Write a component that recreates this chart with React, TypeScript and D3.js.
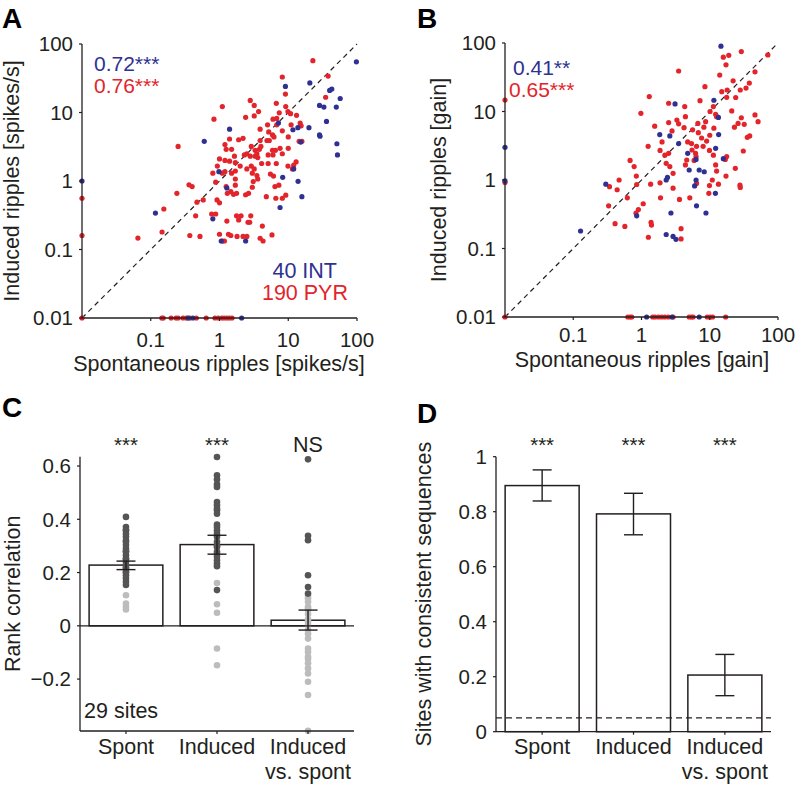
import * as d3 from "d3";

const FONT = "'Liberation Sans', Arial, Helvetica, sans-serif";
const BLUE = "#2e3192";
const RED = "#e3242b";
const INK = "#231f20";

// A: firing rate [spontaneous, induced] in spikes/s, 0 = silent (drawn on the axis)
const rateInt = [
  [98, 55], [9.1, 24], [20.6, 27], [40, 21], [43, 22], [57, 16], [28.5, 12.7], [33, 12], [50, 12],
  [36, 7.4], [1.4, 5.7], [0.6, 3.8], [11.7, 5.6], [13.8, 6.0], [20, 6.0], [28.5, 4.7], [29, 4.5],
  [15.2, 3.7], [51, 3.5], [52, 2.4], [7.2, 7.0], [12, 1.5], [0.98, 1.37], [8.3, 1.13], [13.9, 0.99],
  [15.8, 0.59], [7.6, 0.41], [0.117, 0.34], [0.8, 0.28], [1.06, 0.133], [2.4, 0.133], [1.28, 0.79],
  [0, 1], [0.35, 0], [0.41, 0], [2.1, 0],
];
const ratePyr = [
  [22.8, 57], [38, 34], [8.2, 33], [9.1, 18.6], [35, 16.7], [2.8, 15], [3.2, 12.7], [6.7, 13.6],
  [1.1, 12.2], [3.7, 10.3], [9.2, 12.2], [9.9, 10.3], [7.4, 9.9], [10.8, 9.6], [13.2, 9.1], [2.4, 8.5],
  [3.2, 8.9], [0.83, 8.0], [6.0, 8.0], [6.8, 8.2], [3.9, 5.7], [5.0, 6.6], [6.8, 6.6], [8.2, 5.4],
  [11, 6.6], [14.9, 7.0], [15.4, 6.4], [5.2, 5.2], [5.9, 4.7], [6.2, 4.4], [10, 4.4], [14.4, 3.8],
  [15.8, 3.8], [1.4, 4.1], [1.9, 4.0], [2.2, 4.2], [0.25, 3.2], [3.9, 3.9], [4.9, 3.9], [5.3, 3.9],
  [1.0, 2.1], [1.2, 3.4], [1.5, 2.9], [1.25, 2.9], [2.9, 3.2], [3.3, 2.8], [3.8, 2.9], [4.0, 3.2],
  [5.9, 2.8], [6.5, 2.8], [7.6, 3.0], [10, 3.0], [2.3, 2.4], [2.5, 2.5], [2.8, 2.3], [3.3, 2.3],
  [3.5, 2.5], [3.6, 2.2], [1.65, 2.3], [5.1, 2.4], [6.0, 2.4], [8.2, 2.5], [1.2, 2.0], [1.4, 1.95],
  [1.7, 1.85], [2.0, 1.65], [2.5, 1.5], [2.9, 1.65], [3.2, 1.5], [4.1, 1.8], [5.1, 1.8], [6.7, 1.8],
  [9.9, 1.65], [12, 1.7], [13, 1.9], [0.93, 1.65], [11.5, 1.5],
  [0.8, 1.3], [1.1, 1.3], [1.2, 1.37], [1.5, 1.3], [1.7, 1.4], [3.0, 1.3], [3.5, 1.2], [3.6, 1.07],
  [5.5, 1.26], [6.1, 1.18], [0.36, 0.88], [0.4, 0.83], [0.24, 0.66], [0.88, 0.96], [1.25, 0.83],
  [1.3, 0.66], [1.46, 0.7], [1.6, 0.64], [1.77, 0.66], [1.7, 0.87], [1.7, 1.07], [3.1, 0.98],
  [3.0, 0.81], [2.4, 0.63], [2.65, 0.66], [4.8, 0.59], [6.4, 0.83], [7.3, 0.87], [6.6, 0.56],
  [8.2, 0.56], [9.2, 0.62], [0.47, 0.49], [0.58, 0.53], [0.92, 0.53], [1.0, 0.48], [0.155, 0.39],
  [0.45, 0.31], [0.77, 0.33], [0.88, 0.33], [1.28, 0.26], [1.77, 0.31], [2.06, 0.31], [1.9, 0.27],
  [2.6, 0.25], [2.75, 0.25], [2.85, 0.31], [4.2, 0.22], [0.146, 0.18], [0.37, 0.16], [0.52, 0.155],
  [1.0, 0.167], [1.35, 0.167], [1.46, 0.16], [1.8, 0.155], [2.2, 0.155], [2.5, 0.155], [1.1, 0.133],
  [1.18, 0.133], [3.9, 0.146], [4.3, 0.133], [5.8, 0.163], [0.065, 0.147],
  [0, 0.56], [0, 0.16], [0, 0],
  [0.145, 0], [0.152, 0], [0.198, 0], [0.233, 0], [0.25, 0], [0.295, 0], [0.33, 0], [0.37, 0],
  [0.46, 0], [0.64, 0], [0.86, 0], [0.96, 0], [1.08, 0], [1.17, 0], [1.28, 0], [1.39, 0], [1.52, 0],
];

// B: ripple gain [spontaneous, induced]
const gainInt = [
  [14.6, 90], [3.1, 12.9], [11.5, 14.6], [13.4, 8.2], [1.85, 4.6], [2.6, 4.4], [3.5, 3.4], [12.2, 2.9],
  [13.5, 4.6], [4.75, 2.45], [6.3, 2.0], [15.8, 2.05], [5.0, 1.4], [7.0, 1.4], [8.3, 1.32], [2.4, 1.09],
  [2.3, 1.0], [6.3, 1.0], [12.1, 0.64], [6.0, 0.82], [0.3, 0.87], [0.85, 0.3], [2.7, 0.33], [6.4, 0.42],
  [8.8, 0.33], [0.128, 0.18], [2.3, 0.16], [2.9, 0.15], [3.2, 0.136],
  [0, 3.0], [0, 0.97], [1.19, 0], [2.8, 0], [7.0, 0],
];
const gainPyr = [
  [15.8, 62], [19, 66], [29, 75], [17.3, 48], [3.5, 39], [71, 67], [46, 38], [14, 34], [22, 28],
  [38, 26], [34, 22], [28, 20.6], [8.5, 23], [15, 19.5], [18, 20.6], [17.7, 16.1], [24, 16], [1.3, 16.5],
  [2.5, 13.2], [4.3, 11.8], [7.2, 14.4], [0.98, 9.4], [11.3, 11.8], [10.1, 10], [12.2, 9.1], [12.6, 8.4],
  [21, 10.2], [46, 8.9], [51, 7.1], [29, 8.1], [26, 6.7], [32, 6.5], [23, 5.9], [35.5, 4.2], [38.5, 4.4],
  [31, 2.65], [2.5, 6.9], [3.3, 7.5], [3.5, 6.6], [2.8, 5.2], [4.4, 8.4], [4.2, 5.8], [6.7, 6.7],
  [8.7, 7.1], [8.2, 5.9], [5.6, 5.4], [6.8, 4.9], [10, 4.5], [9.0, 3.7], [7.6, 4.1], [11.5, 5.7],
  [2.0, 3.6], [1.25, 3.1], [1.87, 2.7], [2.2, 2.3], [2.5, 2.45], [4.75, 3.6], [5.4, 3.4], [5.5, 2.74],
  [6.4, 3.1], [6.2, 2.45], [8.0, 3.1], [9.9, 2.7], [11.3, 2.3], [2.3, 1.75], [2.6, 1.57], [2.9, 1.25],
  [4.6, 1.96], [5.9, 1.93], [6.3, 2.2], [4.4, 1.66], [12.2, 1.66], [16.9, 2.0], [17.7, 2.2], [12.6, 1.35],
  [23.7, 1.48], [0.68, 1.93], [0.78, 1.57], [0.84, 1.14], [0.47, 1.0], [17.3, 1.14], [1.56, 6.1],
  [0.34, 0.8], [0.44, 0.72], [0.85, 0.86], [0.62, 0.55], [0.33, 0.42], [0.41, 0.23], [0.57, 0.21],
  [0.9, 0.37], [1.06, 0.45], [0.83, 0.33], [1.36, 0.87], [1.87, 0.91], [2.9, 0.76], [1.9, 0.55],
  [3.6, 0.52], [5.1, 0.55], [1.38, 0.24], [1.4, 0.22], [1.26, 0.146], [3.8, 0.195], [3.8, 0.138],
  [6.4, 0.89], [9.9, 0.83], [9.7, 0.64], [13.4, 0.87], [10.9, 1.0], [27.7, 0.84], [28, 0.78],
  [0, 14.7], [0, 0.92], [0, 0],
  [0.63, 0], [0.68, 0], [0.72, 0], [1.46, 0], [1.58, 0], [1.77, 0], [1.98, 0], [2.2, 0], [2.47, 0],
  [2.9, 0], [5.0, 0], [5.4, 0], [5.7, 0], [9.2, 0], [10.1, 0], [11, 0], [17.1, 0],
];

const logTicksY = [0.01, 0.1, 1, 10, 100];
const logTicksX = [0.1, 1, 10, 100];

// C: rank correlation per site
const barCats = ["Spont", "Induced", "Induced vs. spont"];
const barCatLines = [["Spont"], ["Induced"], ["Induced", "vs. spont"]];
const corrMean = [0.228, 0.305, 0.021];
const corrLo = [0.211, 0.269, -0.016];
const corrHi = [0.243, 0.34, 0.059];
const corrSpontSig = [0.409, 0.371, 0.36, 0.359, 0.346, 0.334, 0.32, 0.315, 0.303, 0.29, 0.28, 0.278,
  0.265, 0.253, 0.25, 0.24, 0.228, 0.22, 0.215, 0.203, 0.2, 0.19, 0.178, 0.165, 0.153];
const corrSpontNs = [0.115, 0.084, 0.071, 0.061];
const corrIndSig = [0.634, 0.565, 0.549, 0.531, 0.521, 0.465, 0.453, 0.44, 0.434, 0.421, 0.38, 0.371,
  0.359, 0.346, 0.334, 0.315, 0.3, 0.296, 0.278, 0.27, 0.259, 0.246, 0.234, 0.224, 0.134];
const corrIndNs = [0.161, 0.081, 0.049, -0.085, -0.148];
const corrCrossSig = [0.625, 0.338, 0.321, 0.19, 0.146, 0.121];
const corrCrossNs = [0.112, 0.103, 0.09, 0.071, 0.065, 0.059, 0.044, 0.024, 0.015, 0.003, -0.016,
  -0.03, -0.048, -0.085, -0.098, -0.116, -0.125, -0.141, -0.16, -0.179, -0.21, -0.26, -0.394];
const corrSig = [corrSpontSig, corrIndSig, corrCrossSig];
const corrNs = [corrSpontNs, corrIndNs, corrCrossNs];
const corrTicks = [-0.2, 0, 0.2, 0.4, 0.6];
const corrStars = ["***", "***", "NS"];

// D: fraction of sites with consistent sequences
const seqMean = [0.895, 0.792, 0.206];
const seqLo = [0.839, 0.716, 0.131];
const seqHi = [0.952, 0.867, 0.281];
const seqTicks = [0, 0.2, 0.4, 0.6, 0.8, 1];
const seqStars = ["***", "***", "***"];
const chanceLevel = 0.05;

const fmtTick = (v: number) => (v === 0 ? "0" : v === 1 ? "1" : d3.format(".1f")(v));

function LogScatter({ left, right, top, bottom, intPts, pyrPts, xLabel, yLabel, xLabelPos, yLabelX, xTickDy, rTexts, showCounts }: any) {
  const x = d3.scaleLog().domain([0.01, 100]).range([left, right]);
  const y = d3.scaleLog().domain([0.01, 100]).range([bottom, top]);
  const c = (v: number) => (v <= 0 ? 0.01 : v);
  const dot = (col: string) => (d: number[], i: number) => (
    <circle key={i} cx={x(c(d[0]))} cy={y(c(d[1]))} r={2.6} fill={col} />
  );
  return (
    <g fontFamily={FONT} fill={INK}>
      <line x1={x(0.01)} x2={x(100)} y1={y(0.01)} y2={y(100)} stroke={INK} strokeWidth={1.2} strokeDasharray="5,4" />
      {pyrPts.map(dot(RED))}
      {intPts.map(dot(BLUE))}
      <line x1={left} x2={left} y1={top} y2={bottom} stroke={INK} strokeWidth={1.3} />
      <line x1={left} x2={right} y1={bottom} y2={bottom} stroke={INK} strokeWidth={1.3} />
      {logTicksY.map((t) => (
        <g key={"y" + t}>
          <line x1={left - 3} x2={left} y1={y(t)} y2={y(t)} stroke={INK} strokeWidth={1.2} />
          <text x={left - 9} y={y(t)} dy="0.36em" textAnchor="end" fontSize={20.5}>{String(t)}</text>
        </g>
      ))}
      {logTicksX.map((t) => (
        <g key={"x" + t}>
          <line x1={x(t)} x2={x(t)} y1={bottom} y2={bottom + 3} stroke={INK} strokeWidth={1.2} />
          <text x={x(t)} y={bottom + xTickDy} textAnchor="middle" fontSize={20.5}>{String(t)}</text>
        </g>
      ))}
      <text x={xLabelPos[0]} y={xLabelPos[1]} textAnchor="middle" fontSize={21.5}>{xLabel}</text>
      <text transform={`translate(${yLabelX},${(top + bottom) / 2}) rotate(-90)`} textAnchor="middle" fontSize={21.5}>{yLabel}</text>
      {rTexts.map((r: any, i: number) => (
        <text key={i} x={r.x} y={r.y} fontSize={21} fill={r.col}>{r.text}</text>
      ))}
      {showCounts && (
        <g fontSize={21.5} textAnchor="end">
          <text x={337} y={278} fill={BLUE}>40 INT</text>
          <text x={348} y={300} fill={RED}>190 PYR</text>
        </g>
      )}
    </g>
  );
}

function BarPanel({ left, right, top, bottom, domain, ticks, means, lo, hi, stars, yLabel, yLabelX, children }: any) {
  const x = d3.scaleBand().domain(barCats).range([left, right]).paddingInner(0.19).paddingOuter(0.1);
  const y = d3.scaleLinear().domain(domain).range([bottom, top]);
  const zeroY = y(Math.max(0, domain[0]));
  const bw = x.bandwidth();
  return (
    <g fontFamily={FONT} fill={INK}>
      {barCats.map((cat, i) => (
        <rect key={cat} x={x(cat)} y={y(Math.max(means[i], 0))} width={bw}
          height={Math.abs(y(means[i]) - y(0))} fill="#fff" stroke={INK} strokeWidth={1.5} />
      ))}
      {children && children(x, y)}
      {barCats.map((cat, i) => {
        const cx = (x(cat) as number) + bw / 2;
        return (
          <g key={"e" + cat} stroke={INK} strokeWidth={1.4}>
            <line x1={cx} x2={cx} y1={y(lo[i])} y2={y(hi[i])} />
            <line x1={cx - 9.5} x2={cx + 9.5} y1={y(lo[i])} y2={y(lo[i])} />
            <line x1={cx - 9.5} x2={cx + 9.5} y1={y(hi[i])} y2={y(hi[i])} />
          </g>
        );
      })}
      <line x1={left} x2={left} y1={top} y2={bottom} stroke={INK} strokeWidth={1.3} />
      <line x1={left} x2={right} y1={zeroY} y2={zeroY} stroke={INK} strokeWidth={1.3} />
      {domain[0] < 0 && <line x1={left} x2={right} y1={bottom} y2={bottom} stroke={INK} strokeWidth={1.3} />}
      {ticks.map((t: number) => (
        <g key={"t" + t}>
          <line x1={left - 3} x2={left} y1={y(t)} y2={y(t)} stroke={INK} strokeWidth={1.2} />
          <text x={left - 9} y={y(t)} dy="0.36em" textAnchor="end" fontSize={20.5}>{fmtTick(t)}</text>
        </g>
      ))}
      {barCats.map((cat, i) => {
        const cx = (x(cat) as number) + bw / 2;
        return (
          <g key={"l" + cat}>
            <line x1={cx} x2={cx} y1={bottom} y2={bottom + 3} stroke={INK} strokeWidth={1.2} />
            {barCatLines[i].map((s, j) => (
              <text key={j} x={cx} y={754 + j * 25} textAnchor="middle" fontSize={21.5}>{s}</text>
            ))}
            <text x={cx} y={452} textAnchor="middle" fontSize={stars[i] === "NS" ? 21.5 : 20.5}>{stars[i]}</text>
          </g>
        );
      })}
      <text transform={`translate(${yLabelX},${(top + bottom) / 2}) rotate(-90)`} textAnchor="middle" fontSize={21.5}>{yLabel}</text>
    </g>
  );
}

export default function App() {
  return (
    <svg width={795} height={788} style={{ position: "absolute", left: 0, top: 0, background: "#fff" }}>
      <g fontFamily={FONT} fontWeight="bold" fontSize={28} fill="#000">
        <text x={2} y={28}>A</text>
        <text x={417} y={28}>B</text>
        <text x={2} y={417}>C</text>
        <text x={417} y={423}>D</text>
      </g>
      <LogScatter left={82} right={357} top={44} bottom={318} intPts={rateInt} pyrPts={ratePyr}
        xLabel="Spontaneous ripples [spikes/s]" yLabel="Induced ripples [spikes/s]"
        xLabelPos={[219, 371]} yLabelX={18.5} xTickDy={29} showCounts
        rTexts={[{ x: 94, y: 70.5, col: BLUE, text: "0.72***" }, { x: 94, y: 92.5, col: RED, text: "0.76***" }]} />
      <LogScatter left={505} right={778} top={43} bottom={317} intPts={gainInt} pyrPts={gainPyr}
        xLabel="Spontaneous ripples [gain]" yLabel="Induced ripples [gain]"
        xLabelPos={[642, 367]} yLabelX={445.5} xTickDy={25}
        rTexts={[{ x: 513, y: 74.5, col: BLUE, text: "0.41**" }, { x: 509, y: 96.5, col: RED, text: "0.65***" }]} />
      <BarPanel left={80} right={354} top={456.7} bottom={731} domain={[-0.395, 0.635]} ticks={corrTicks}
        means={corrMean} lo={corrLo} hi={corrHi} stars={corrStars} yLabel="Rank correlation" yLabelX={20}>
        {(x: any, y: any) => (
          <g>
            {barCats.map((cat, i) => {
              const cx = x(cat) + x.bandwidth() / 2;
              return (
                <g key={"d" + cat}>
                  {corrNs[i].map((v, j) => <circle key={"n" + j} cx={cx} cy={y(v)} r={3.3} fill="#bcbcbc" />)}
                  {corrSig[i].map((v, j) => <circle key={"s" + j} cx={cx} cy={y(v)} r={3.3} fill="#555555" />)}
                </g>
              );
            })}
            <text x={84} y={718} fontSize={21.5} fill={INK}>29 sites</text>
          </g>
        )}
      </BarPanel>
      <BarPanel left={496} right={771} top={456.7} bottom={731.7} domain={[0, 1]} ticks={seqTicks}
        means={seqMean} lo={seqLo} hi={seqHi} stars={seqStars} yLabel="Sites with consistent sequences" yLabelX={431}>
        {(x: any, y: any) => (
          <line x1={496} x2={771} y1={y(chanceLevel)} y2={y(chanceLevel)} stroke={INK} strokeWidth={1.2} strokeDasharray="6,4" />
        )}
      </BarPanel>
    </svg>
  );
}
